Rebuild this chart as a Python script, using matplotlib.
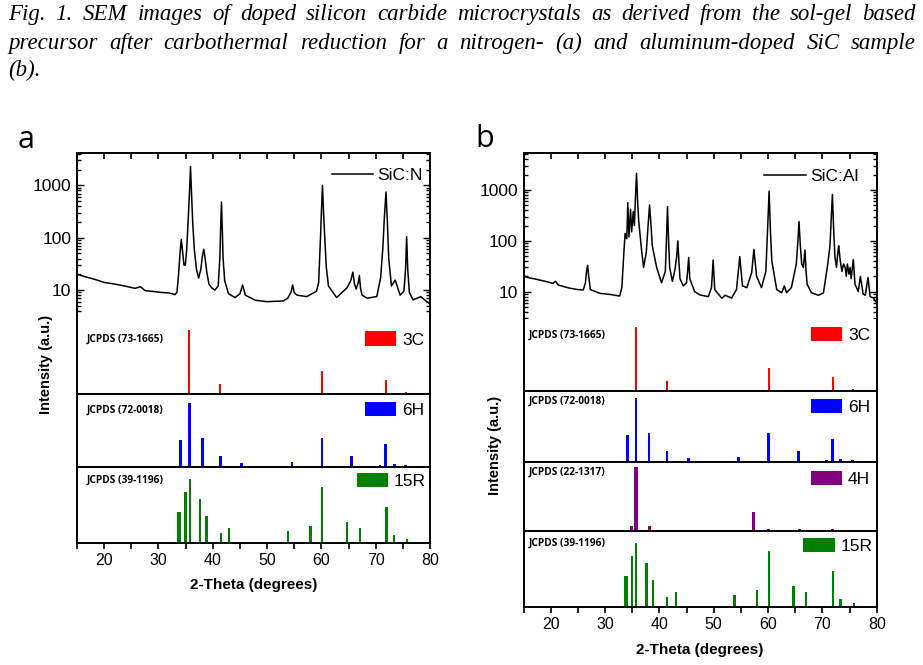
import matplotlib
matplotlib.use('Agg')
import matplotlib.pyplot as plt
from matplotlib.ticker import MultipleLocator, FuncFormatter, NullFormatter

W, H = 923, 665
plt.rcParams['font.family'] = 'Liberation Sans'

# ---- XRD traces (2-theta, counts) ----
xrd_a_tt = [15.0, 16.5, 18.3, 20.0, 22.0, 24.0, 25.7, 26.7, 27.5, 29.0, 30.6, 32.0, 33.05,
            33.4, 33.7, 34.0, 34.2, 34.4, 34.7, 34.95, 35.2, 35.5, 35.75, 35.9, 36.05, 36.3,
            36.6, 37.0, 37.4, 37.8, 38.1, 38.35, 38.6, 38.9, 39.3, 39.8, 40.4, 41.0, 41.3,
            41.45, 41.6, 41.75, 41.9, 42.2, 42.9, 44.1, 45.0, 45.5, 46.0, 47.8, 50.0, 53.0,
            53.8, 54.4, 54.7, 55.0, 55.5, 57.3, 59.1, 59.5, 59.85, 60.0, 60.2, 60.4, 60.6,
            60.9, 61.3, 62.8, 64.7, 65.4, 65.8, 66.1, 66.4, 66.8, 67.0, 67.2, 67.5, 68.4,
            70.2, 70.9, 71.3, 71.6, 71.9, 72.15, 72.4, 72.9, 73.6, 74.5, 75.2, 75.5, 75.7,
            75.9, 76.2, 76.9, 78.3, 79.4, 80.0]
xrd_a_int = [20, 18, 16, 14, 13, 11.8, 10.8, 11.6, 9.8, 9.4, 9.0, 8.8, 8.2,
             9, 20, 55, 93, 60, 30, 30, 60, 250, 900, 2300, 900, 200,
             60, 25, 17, 25, 45, 60, 40, 22, 13, 11, 10, 12, 40,
             150, 480, 150, 40, 15, 8.5, 7.2, 8.5, 12.5, 8, 6.4, 6.0, 6.2,
             7, 9, 12.5, 9, 8, 7.5, 9.5, 14, 110, 300, 1000, 300, 110,
             28, 12, 7.2, 11, 15, 22, 13, 10.5, 14, 19, 11, 8, 7,
             7.5, 17, 60, 250, 750, 200, 40, 12, 15.5, 8, 9.5, 25, 105,
             25, 9, 6.5, 7.5, 6, 5.5]

xrd_b_tt = [15.0, 15.8, 17.4, 19.0, 20.4, 20.9, 21.4, 23.5, 25.0, 26.0, 26.4, 26.6, 26.8,
            27.0, 27.3, 29.0, 31.0, 32.7, 33.1, 33.5, 33.7, 34.0, 34.2, 34.4, 34.7, 34.9,
            35.2, 35.4, 35.6, 35.8, 36.0, 36.2, 36.7, 37.1, 37.6, 37.9, 38.2, 38.5, 38.7,
            39.5, 40.4, 41.1, 41.3, 41.5, 41.7, 41.9, 42.4, 42.9, 43.2, 43.4, 43.6, 43.8,
            44.4, 45.0, 45.2, 45.4, 45.6, 46.5, 47.5, 49.0, 49.6, 49.9, 50.2, 51.5, 52.1,
            53.3, 54.2, 54.8, 55.3, 56.1, 57.0, 57.4, 57.9, 58.8, 59.6, 59.9, 60.2, 60.45,
            60.7, 61.6, 62.5, 63.0, 63.4, 64.3, 65.2, 65.5, 65.7, 65.95, 66.2, 66.5, 66.8,
            67.0, 67.2, 68.0, 69.3, 70.2, 71.0, 71.4, 71.65, 71.85, 72.05, 72.3, 72.6, 72.85,
            73.0, 73.3, 73.6, 73.9, 74.2, 74.4, 74.6, 74.9, 75.1, 75.3, 75.7, 76.0, 76.3,
            76.6, 77.0, 77.5, 77.9, 78.4, 78.8, 79.4, 80.0]
xrd_b_int = [20.4, 19, 17.5, 16, 14.6, 16, 13.5, 11.7, 11, 10.8, 15, 25, 33,
             20, 11, 9.3, 8.8, 8.2, 12, 66, 140, 110, 564, 120, 417, 150,
             375, 200, 700, 2130, 600, 250, 70, 30, 60, 180, 507, 180, 80,
             30, 15, 25, 100, 470, 100, 30, 16, 28, 50, 100, 40, 18,
             13, 15, 25, 47, 18, 10, 8.6, 8, 12, 42, 11, 7.4, 8.5,
             7.5, 11, 49, 13, 12, 24, 68, 20, 12, 25, 150, 950, 150,
             40, 11, 9.5, 13, 9.5, 12, 35, 100, 240, 80, 35, 30, 66,
             25, 14, 9.5, 8.5, 9.5, 35, 80, 300, 820, 200, 50, 30, 60,
             80, 40, 25, 35, 30, 20, 35, 22, 30, 18, 43, 14, 12,
             10, 20, 9, 8.5, 19, 8, 7.5, 6]

# ---- reference patterns (2-theta, relative intensity) ----
sic3c_pos = [35.7, 41.4, 60.1, 71.9, 75.6]
sic3c_int = [100, 16, 35, 22, 3]
sic6h_pos = [34.1, 35.7, 38.1, 41.4, 45.3, 54.6, 60.1, 65.6, 70.8, 71.8, 73.4, 75.5, 78.3]
sic6h_int = [42, 100, 45, 17, 6, 8, 45, 17, 3, 36, 5, 3, 1.5]
sic4h_pos = [33.5, 34.85, 35.7, 38.2, 43.3, 57.35, 60.1, 65.75, 71.9, 73.6]
sic4h_int = [2, 8, 100, 7, 2, 30, 3, 3, 3, 2]
sic15r_pos = [33.7, 33.95, 35.0, 35.75, 37.65, 38.85, 41.45, 43.0, 53.85, 58.0, 60.15,
              64.7, 67.05, 72.0, 73.35, 75.8]
sic15r_int = [48, 48, 79, 100, 69, 42, 16, 23, 19, 27, 87, 33, 24, 56, 13, 6]

fig = plt.figure(figsize=(W / 100, H / 100), dpi=100)
PT = 72 / 100  # points per pixel


def px_rect(l, t, r, b):
    return [l / W, 1 - b / H, (r - l) / W, (b - t) / H]


def xrd_panel(box, tt, inten, label, ylim, leg_gap, leg_dy):
    l, t, r, b = box
    ax = fig.add_axes(px_rect(*box))
    ax.semilogy(tt, inten, color='black', lw=1.1, label=label)
    ax.set_xlim(15, 80)
    ax.set_ylim(*ylim)
    ax.spines['bottom'].set_visible(False)
    for s in ['top', 'left', 'right']:
        ax.spines[s].set_linewidth(1.4)
    ax.xaxis.set_major_locator(MultipleLocator(5))
    ax.yaxis.set_major_formatter(FuncFormatter(lambda v, p: f'{v:g}'))
    ax.yaxis.set_minor_formatter(NullFormatter())
    ax.tick_params(axis='x', which='both', top=True, bottom=False, labelbottom=False,
                   direction='in', length=4, width=1.2)
    ax.tick_params(axis='y', which='both', left=True, right=True, direction='in', width=1.0)
    ax.tick_params(axis='y', which='major', length=5, labelsize=12.5, pad=4)
    ax.tick_params(axis='y', which='minor', length=3)
    ax.legend(loc='center right', frameon=False, fontsize=12.5, handlelength=2.4,
              handletextpad=0.25, borderpad=0, borderaxespad=0,
              bbox_to_anchor=((r - l - leg_gap) / (r - l), (b - t - leg_dy) / (b - t)))
    return ax


def stick_panel(box, pos, inten, color, width, code, phase, lab_dx, lab_dy, leg_gap, leg_dy,
                top_spine=True, bottom=False):
    l, t, r, b = box
    ax = fig.add_axes(px_rect(*box))
    ax.bar(pos, inten, width=width, color=color, label=phase)
    ax.set_xlim(15, 80)
    ax.set_ylim(0, 100 * (b - t) / 64.3)
    ax.set_yticks([])
    for s in ['top', 'left', 'right', 'bottom']:
        ax.spines[s].set_linewidth(1.4)
    ax.spines['top'].set_visible(top_spine)
    if bottom:
        ax.xaxis.set_major_locator(MultipleLocator(10))
        ax.xaxis.set_minor_locator(MultipleLocator(5))
        ax.tick_params(axis='x', which='both', direction='out', length=4, width=1.2,
                       labelsize=11.5, pad=3)
    else:
        ax.set_xticks([])
    ax.annotate(code, xy=(0, 1), xycoords='axes fraction',
                xytext=(lab_dx * PT, -lab_dy * PT), textcoords='offset points',
                ha='left', va='center', fontsize=7.3, fontweight='bold', family='Open Sans')
    ax.legend(loc='center right', frameon=False, fontsize=12.5, handlelength=1.8,
              handleheight=0.9, handletextpad=0.35, borderpad=0, borderaxespad=0,
              bbox_to_anchor=((r - l - leg_gap) / (r - l), (b - t - leg_dy) / (b - t)))
    return ax


# ---- panel a ----
la, ra = 77, 430
xrd_panel((la, 153, ra, 315), xrd_a_tt, xrd_a_int, 'SiC:N', (3.34, 4160), 7, 22)
stick_panel((la, 315, ra, 394), sic3c_pos, sic3c_int, 'red', 0.35, 'JCPDS (73-1665)', '3C',
            10, 24, 6, 24.5, top_spine=False)
stick_panel((la, 394, ra, 467), sic6h_pos, sic6h_int, 'blue', 0.5, 'JCPDS (72-0018)', '6H',
            10, 16, 6, 16)
stick_panel((la, 467, ra, 543), sic15r_pos, sic15r_int, 'green', 0.42, 'JCPDS (39-1196)', '15R',
            10, 13, 4, 14, bottom=True)

# ---- panel b ----
lb, rb = 523.5, 876.7
xrd_panel((lb, 153, rb, 319), xrd_b_tt, xrd_b_int, 'SiC:Al', (2.9, 5350), 18, 23.5)
stick_panel((lb, 319, rb, 391), sic3c_pos, sic3c_int, 'red', 0.35, 'JCPDS (73-1665)', '3C',
            5.5, 16, 6.7, 16, top_spine=False)
stick_panel((lb, 391, rb, 462), sic6h_pos, sic6h_int, 'blue', 0.5, 'JCPDS (72-0018)', '6H',
            5.5, 10, 6.7, 16)
stick_panel((lb, 462, rb, 531), sic4h_pos, sic4h_int, 'purple', 0.6, 'JCPDS (22-1317)', '4H',
            5.5, 10, 6.7, 17)
stick_panel((lb, 531, rb, 607), sic15r_pos, sic15r_int, 'green', 0.42, 'JCPDS (39-1196)', '15R',
            5.5, 12, 4, 15, bottom=True)


def ftext(x, y, s, **kw):
    return fig.text(x / W, 1 - y / H, s, **kw)


# axis titles and panel letters
for x, y in [(253.5, 585), (700, 650)]:
    ftext(x, y, '2-Theta (degrees)', ha='center', va='center', fontsize=11, fontweight='bold')
for x, y in [(46, 364), (495, 445)]:
    ftext(x, y, 'Intensity (a.u.)', ha='center', va='center', rotation=90,
          fontsize=10.5, fontweight='bold')
ftext(26, 140, 'a', ha='center', va='center', fontsize=22, family='Open Sans')
ftext(485, 139, 'b', ha='center', va='center', fontsize=22, family='Open Sans')

# caption, justified line by line
cap_kw = dict(fontsize=16.5, family='Liberation Serif', style='italic', va='baseline')
caption = ["Fig. 1. SEM images of doped silicon carbide microcrystals as derived from the sol-gel based",
           "precursor after carbothermal reduction for a nitrogen- (a) and aluminum-doped SiC sample"]
renderer = fig.canvas.get_renderer()
for line, base in zip(caption, [20, 49]):
    words = line.split()
    widths = []
    for w in words:
        t = ftext(0, 0, w, **cap_kw)
        widths.append(t.get_window_extent(renderer).width)
        t.remove()
    gap = (908 - sum(widths)) / (len(words) - 1)
    x = 8
    for w, wd in zip(words, widths):
        ftext(x, base, w, **cap_kw)
        x += wd + gap
ftext(8, 76, '(b).', **cap_kw)

fig.savefig('out.png', dpi=100)
